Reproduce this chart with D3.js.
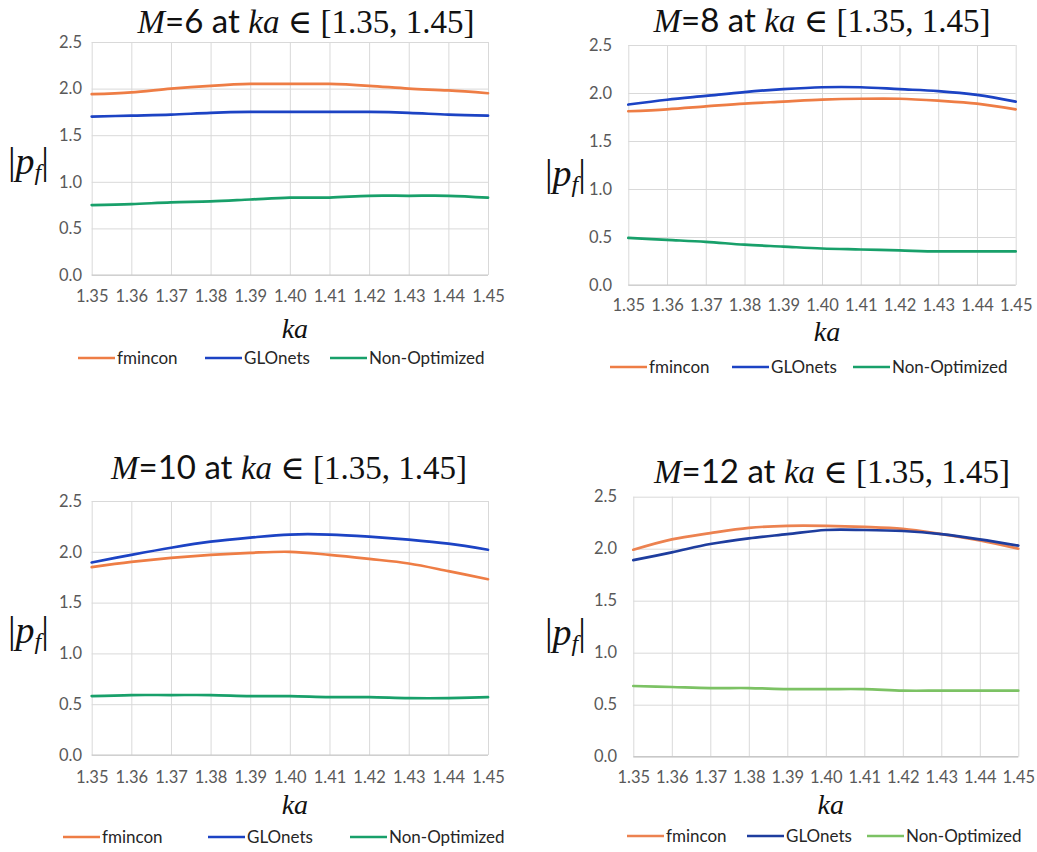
<!DOCTYPE html>
<html>
<head>
<meta charset="utf-8">
<script src="https://cdn.jsdelivr.net/npm/d3@7"></script>
<style>
  html, body { margin: 0; padding: 0; background: #fff; }
  svg { display: block; }
</style>
</head>
<body>
<svg id="chart" width="1037" height="852"></svg>
<script>
// ka sample points shared by all four panels
const kaValues = [1.35, 1.36, 1.37, 1.38, 1.39, 1.40, 1.41, 1.42, 1.43, 1.44, 1.45];
const xTickLabels = ["1.35", "1.36", "1.37", "1.38", "1.39", "1.40", "1.41", "1.42", "1.43", "1.44", "1.45"];
const yTicks = [0, 0.5, 1.0, 1.5, 2.0, 2.5];
const seriesNames = ["fmincon", "GLOnets", "Non-Optimized"];
const panelOrders = [6, 8, 10, 12];

// |p_f| per series, M = 6
const m6Fmincon  = [1.94, 1.96, 2.00, 2.03, 2.05, 2.05, 2.05, 2.03, 2.00, 1.98, 1.95];
const m6Glonets  = [1.70, 1.71, 1.72, 1.74, 1.75, 1.75, 1.75, 1.75, 1.74, 1.72, 1.71];
const m6NonOpt   = [0.75, 0.76, 0.78, 0.79, 0.81, 0.83, 0.83, 0.85, 0.85, 0.85, 0.83];

// M = 8
const m8Fmincon  = [1.81, 1.83, 1.86, 1.89, 1.91, 1.93, 1.94, 1.94, 1.92, 1.89, 1.83];
const m8Glonets  = [1.88, 1.93, 1.97, 2.01, 2.04, 2.06, 2.06, 2.04, 2.02, 1.98, 1.91];
const m8NonOpt   = [0.49, 0.47, 0.45, 0.42, 0.40, 0.38, 0.37, 0.36, 0.35, 0.35, 0.35];

// M = 10
const m10Fmincon = [1.85, 1.90, 1.94, 1.97, 1.99, 2.00, 1.97, 1.93, 1.885, 1.81, 1.73];
const m10Glonets = [1.895, 1.97, 2.04, 2.10, 2.14, 2.17, 2.17, 2.15, 2.12, 2.08, 2.02];
const m10NonOpt  = [0.58, 0.59, 0.59, 0.59, 0.58, 0.58, 0.57, 0.57, 0.56, 0.56, 0.57];

// M = 12
const m12Fmincon = [1.99, 2.09, 2.15, 2.20, 2.22, 2.22, 2.21, 2.19, 2.14, 2.08, 2.00];
const m12Glonets = [1.89, 1.965, 2.045, 2.10, 2.14, 2.18, 2.18, 2.17, 2.14, 2.09, 2.03];
const m12NonOpt  = [0.68, 0.67, 0.66, 0.66, 0.65, 0.65, 0.65, 0.635, 0.635, 0.635, 0.635];

const panelSeries = [
  [m6Fmincon, m6Glonets, m6NonOpt],
  [m8Fmincon, m8Glonets, m8NonOpt],
  [m10Fmincon, m10Glonets, m10NonOpt],
  [m12Fmincon, m12Glonets, m12NonOpt]
];

// Layout and styling of each panel
const layouts = [
  { left: 91.7, right: 488, top: 42, bottom: 275, titleX: 306, titleY: 33, tickY: 302, kaY: 338, legendY: 364,
    yLabelRight: 82, pLabelX: 8, pLabelY: 174, legendX: [78, 205, 330],
    colors: ["#ee7d45", "#1c43c4", "#18a06a"] },
  { left: 628.3, right: 1015.7, top: 45, bottom: 285, titleX: 822, titleY: 32, tickY: 311, kaY: 341, legendY: 373,
    yLabelRight: 612, pLabelX: 545, pLabelY: 186, legendX: [610, 732, 853],
    colors: ["#ee7d45", "#1c43c4", "#18a06a"] },
  { left: 91.7, right: 488, top: 501, bottom: 755, titleX: 289, titleY: 479, tickY: 783, kaY: 814, legendY: 843,
    yLabelRight: 82, pLabelX: 8, pLabelY: 643, legendX: [63, 208, 350],
    colors: ["#ee7d45", "#1c43c4", "#18a06a"] },
  { left: 633.3, right: 1018.3, top: 496.7, bottom: 756.7, titleX: 832, titleY: 483, tickY: 783, kaY: 814, legendY: 842,
    yLabelRight: 617, pLabelX: 545, pLabelY: 645, legendX: [627, 747, 867],
    colors: ["#ec8250", "#1e3d9e", "#7cc264"] }
];

const SANS = "Lato, 'Open Sans', sans-serif";
const SERIF = "'Liberation Serif', 'DejaVu Serif', serif";

const svg = d3.select("#chart");

panelOrders.forEach((order, i) => {
  const L = layouts[i];
  const g = svg.append("g");

  const x = d3.scaleLinear().domain([kaValues[0], kaValues[kaValues.length - 1]]).range([L.left, L.right]);
  const y = d3.scaleLinear().domain([0, 2.5]).range([L.bottom, L.top]);

  // horizontal gridlines
  const yAxis = d3.axisLeft(y).tickValues(yTicks).tickFormat(d3.format(".1f"))
    .tickSize(-(L.right - L.left)).tickPadding(L.left - L.yLabelRight);
  const gy = g.append("g").attr("transform", `translate(${L.left},0)`).call(yAxis);
  gy.select(".domain").remove();
  gy.selectAll(".tick line").attr("stroke", "#d9d9d9").attr("stroke-width", 1);
  gy.selectAll(".tick text").attr("fill", "#595959").style("font-family", SANS).style("font-size", "16.5px");

  // vertical gridlines + tick labels
  const xAxis = d3.axisBottom(x).tickValues(kaValues).tickFormat((d, k) => xTickLabels[k])
    .tickSize(-(L.bottom - L.top)).tickPadding(L.tickY - L.bottom - 12);
  const gx = g.append("g").attr("transform", `translate(0,${L.bottom})`).call(xAxis);
  gx.select(".domain").remove();
  gx.selectAll(".tick line").attr("stroke", "#d9d9d9").attr("stroke-width", 1);
  gx.selectAll(".tick text").attr("fill", "#595959").style("font-family", SANS).style("font-size", "16.5px");

  // baseline
  g.append("line").attr("x1", L.left).attr("x2", L.right).attr("y1", y(0)).attr("y2", y(0))
    .attr("stroke", "#c8c8c8").attr("stroke-width", 1.2);

  // series
  const line = d3.line().x((d, k) => x(kaValues[k])).y(d => y(d)).curve(d3.curveCatmullRom.alpha(0.5));
  // draw Non-Optimized first so optimized curves sit on top
  [2, 0, 1].forEach(s => {
    g.append("path").datum(panelSeries[i][s])
      .attr("d", line).attr("fill", "none")
      .attr("stroke", L.colors[s]).attr("stroke-width", 2.7)
      .attr("stroke-linejoin", "round").attr("stroke-linecap", "round");
  });

  // title
  const title = g.append("text").attr("x", L.titleX).attr("y", L.titleY)
    .attr("text-anchor", "middle").attr("fill", "#111").style("font-size", "33px");
  title.append("tspan").style("font-family", SERIF).style("font-style", "italic").text("M");
  title.append("tspan").style("font-family", SANS).text(`=${order} at `);
  title.append("tspan").style("font-family", SERIF).style("font-style", "italic").text("ka");
  title.append("tspan").style("font-family", SERIF).text(" \u2208 [1.35, 1.45]");

  // x axis label
  g.append("text").attr("x", (L.left + L.right) / 2 + 5).attr("y", L.kaY)
    .attr("text-anchor", "middle").attr("fill", "#111")
    .style("font-family", SERIF).style("font-style", "italic").style("font-size", "28px").text("ka");

  // y axis label |p_f|
  const pl = g.append("text").attr("x", L.pLabelX).attr("y", L.pLabelY).attr("fill", "#111")
    .style("font-family", SERIF).style("font-size", "38px");
  pl.append("tspan").text("|");
  pl.append("tspan").style("font-style", "italic").text("p");
  pl.append("tspan").style("font-style", "italic").style("font-size", "24px").attr("dy", 6).text("f");
  pl.append("tspan").attr("dy", -6).text("|");

  // legend
  seriesNames.forEach((name, s) => {
    const lx = L.legendX[s];
    g.append("line").attr("x1", lx).attr("x2", lx + 37)
      .attr("y1", L.legendY - 6).attr("y2", L.legendY - 6)
      .attr("stroke", L.colors[s]).attr("stroke-width", 2.4);
    g.append("text").attr("x", lx + 39).attr("y", L.legendY).attr("fill", "#262626")
      .style("font-family", SANS).style("font-size", "17px").text(name);
  });
});
</script>
</body>
</html>
